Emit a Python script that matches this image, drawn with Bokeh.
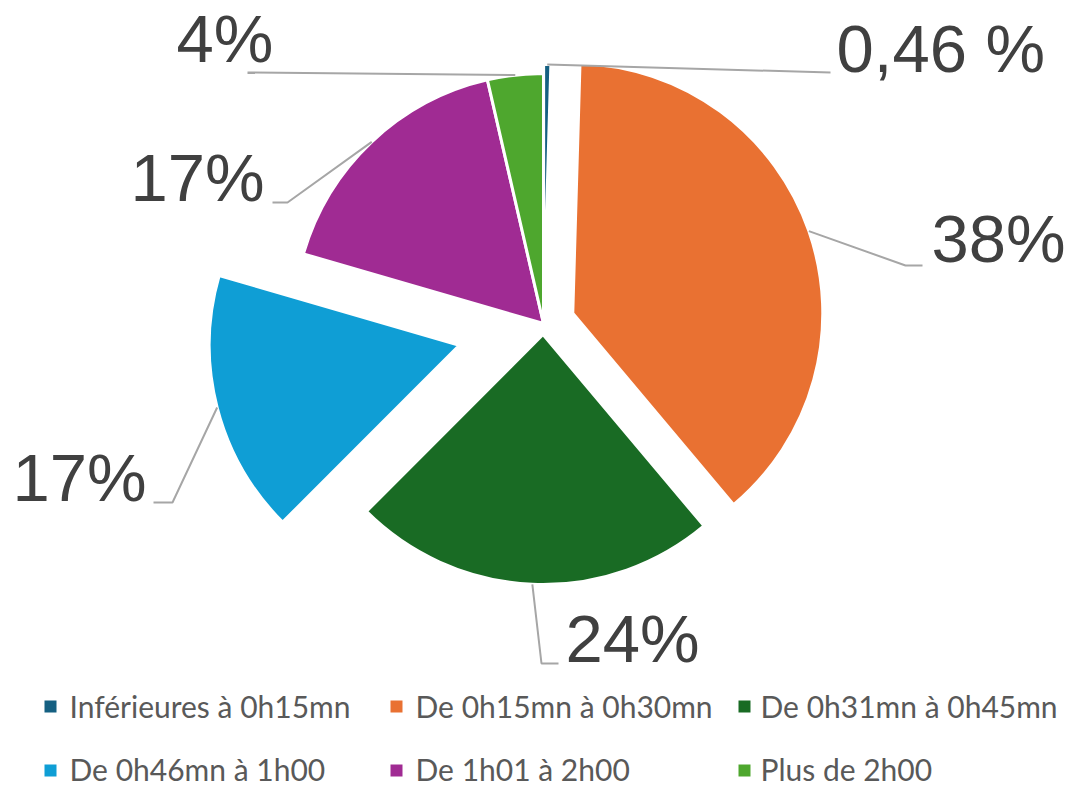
import numpy as np
from bokeh.plotting import figure
from bokeh.models import Range1d
from bokeh.embed import file_html
from bokeh.resources import INLINE
from bokeh.core.properties import value

# ---- data ----
categories = ["Inférieures à 0h15mn", "De 0h15mn à 0h30mn", "De 0h31mn à 0h45mn",
              "De 0h46mn à 1h00", "De 1h01 à 2h00", "Plus de 2h00"]
shares = [0.46, 38.4, 23.6, 17.0, 16.9, 3.6]
labels = ["0,46 %", "38%", "24%", "17%", "17%", "4%"]
colors = ["#156082", "#E97132", "#196B24", "#0F9ED5", "#A02B93", "#4EA72E"]

# ---- layout (reference pixel coordinates, y downward) ----
W, H = 1074, 786
PAGE_H = 786
CX, CY, R = 543, 323, 250
explode = [9, 31, 11, 87, 0, 0]
LBL_SIZE, LEG_SIZE = 67, 30
BASE_FIX = 0.37  # em offset of the renderer's alphabetic baseline
label_pos = [(836, 73), (931, 263), (565, 663), (12, 502), (130, 202), (176, 63)]
elbows = [[(830, 72)],
          [(905, 265), (922, 265)],
          [(541, 663), (558, 663)],
          [(172, 502), (153, 502)],
          [(287, 202), (272, 202)],
          [(247, 72)]]
leg_marker_x = [50, 396, 744]
leg_text_x = [69, 415, 760]
leg_row_base = [717, 780]
leg_row_mark = [706, 770]


def Y(y):
    return PAGE_H - y


p = figure(width=W, height=H, x_range=Range1d(0, W), y_range=Range1d(PAGE_H - H, PAGE_H),
           output_backend="svg", toolbar_location=None, min_border=0)
p.axis.visible = False
p.grid.visible = False
p.outline_line_color = None
p.background_fill_color = "white"

vals = np.array(shares, dtype=float)
frac = vals / vals.sum()
ends = np.cumsum(frac) * 2 * np.pi
starts = np.concatenate([[0.0], ends[:-1]])
mids = (starts + ends) / 2

xs_l, ys_l = [], []
for i in range(len(categories)):
    sx = CX + explode[i] * np.sin(mids[i])
    sy = CY - explode[i] * np.cos(mids[i])
    p.wedge(x=sx, y=Y(sy), radius=R,
            start_angle=np.pi / 2 - ends[i], end_angle=np.pi / 2 - starts[i],
            fill_color=colors[i], line_color="white", line_width=3)
    ax = sx + R * np.sin(mids[i])
    ay = sy - R * np.cos(mids[i])
    pts = [(ax, ay)] + elbows[i]
    xs_l.append([q[0] for q in pts])
    ys_l.append([Y(q[1]) for q in pts])

p.multi_line(xs=xs_l, ys=ys_l, line_color="#A6A6A6", line_width=2)

p.text(x=[q[0] for q in label_pos], y=[Y(q[1] - BASE_FIX * LBL_SIZE) for q in label_pos], text=labels,
       text_font=value("Liberation Sans"), text_font_size=f"{LBL_SIZE}px", text_color="#404040",
       text_baseline="alphabetic", text_align="left")

# legend (3 columns x 2 rows)
mx, my, tx, ty = [], [], [], []
for i in range(len(categories)):
    r, c = divmod(i, 3)
    mx.append(leg_marker_x[c]); my.append(Y(leg_row_mark[r]))
    tx.append(leg_text_x[c]); ty.append(Y(leg_row_base[r] - BASE_FIX * LEG_SIZE))
p.rect(x=mx, y=my, width=12, height=12, fill_color=colors, line_color=None)
p.text(x=tx, y=ty, text=categories, text_font=value("Lato"), text_font_size=f"{LEG_SIZE}px",
       text_color="#595959", text_baseline="alphabetic", text_align="left")

open("out.html", "w").write(file_html(p, INLINE))
